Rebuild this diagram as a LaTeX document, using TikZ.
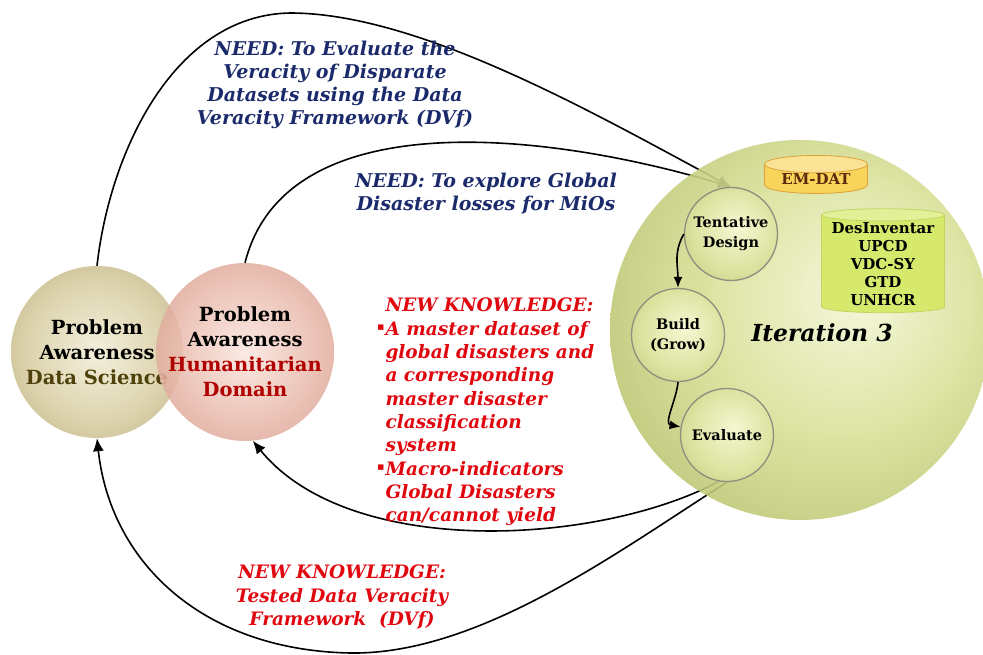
\documentclass[tikz,border=0pt]{standalone}
\usepackage{fontspec}
\setmainfont{DejaVu Serif}
\newfontfamily\symfont{DejaVu Sans}
\usetikzlibrary{arrows.meta,shapes.geometric}

\definecolor{needblue}{HTML}{1B2A6B}
\definecolor{gainred}{HTML}{E0070F}
\definecolor{domred}{HTML}{B00000}
\definecolor{sciolive}{HTML}{4F410C}
\definecolor{dbbrown}{HTML}{5A2A0A}
\definecolor{stageedge}{HTML}{8E8F80}
\definecolor{emgold}{HTML}{F8D45A}
\definecolor{emedge}{HTML}{DDA23C}
\definecolor{dvlime}{HTML}{D6E96C}
\definecolor{dvedge}{HTML}{C4D460}
% sphere tones
\definecolor{dshi}{HTML}{F3EFDC}\definecolor{dsmid}{HTML}{DDD4AE}\definecolor{dslo}{HTML}{BFB286}
\definecolor{hdhi}{HTML}{FAE6DF}\definecolor{hdmid}{HTML}{E8B8AA}\definecolor{hdlo}{HTML}{D49686}
\definecolor{ithi}{HTML}{F4F7D8}\definecolor{itmid}{HTML}{D8E097}\definecolor{itlo}{HTML}{B2BB66}\definecolor{itrim}{HTML}{A3AC56}
\definecolor{sthi}{HTML}{F4F7D2}\definecolor{stmid}{HTML}{DCE3A0}\definecolor{stlo}{HTML}{B9C374}

\pgfdeclareradialshading{dsball}{\pgfpoint{0bp}{0bp}}{%
  color(0bp)=(dshi); color(20bp)=(dsmid); color(35bp)=(dslo); color(50bp)=(dslo)}
\pgfdeclareradialshading{hdball}{\pgfpoint{0bp}{0bp}}{%
  color(0bp)=(hdhi); color(20bp)=(hdmid); color(35bp)=(hdlo); color(50bp)=(hdlo)}
\pgfdeclareradialshading{iterball}{\pgfpoint{8bp}{5bp}}{%
  color(0bp)=(ithi); color(18bp)=(itmid); color(36bp)=(itlo); color(46bp)=(itrim); color(60bp)=(itrim)}
\pgfdeclareradialshading{stageball}{\pgfpoint{4bp}{4bp}}{%
  color(0bp)=(sthi); color(22bp)=(stmid); color(40bp)=(stlo); color(50bp)=(stlo)}

\pgfdeclarelayer{links}
\pgfdeclarelayer{back}
\pgfsetlayers{links,back,main}

\begin{document}
\begin{tikzpicture}[x=1pt, y=1pt,
      font=\bfseries,
      ball/.style={circle, inner sep=0pt, minimum size=172pt, align=center,
                   font=\fontsize{19.5}{25}\selectfont\bfseries},
      stage/.style={circle, draw=stageedge, line width=1.3pt, shading=stageball,
                    minimum size=93pt, inner sep=0pt, align=center,
                    font=\fontsize{14.5}{20}\selectfont\bfseries},
      db/.style={cylinder, shape border rotate=90, draw, line width=0.8pt,
                 cylinder uses custom fill, inner sep=0pt, align=center,
                 font=\fontsize{15}{18}\selectfont\bfseries},
      need/.style={text=needblue, align=center,
                   font=\fontsize{19}{23}\selectfont\bfseries\itshape},
      gain/.style={text=gainred, font=\fontsize{18.5}{23.3}\selectfont\bfseries\itshape},
      flow/.style={-{Latex[length=11pt, width=9pt]}, line width=1.6pt},
      feed/.style={flow, -{Latex[length=13pt, width=11pt]}},
    ]
    \useasboundingbox (0,0) rectangle (983,-655);

    % iteration disc
    \begin{pgfonlayer}{back}
      \node[circle, minimum size=380pt, shading=iterball, fill opacity=0.9] (iter) at (800,-330) {};
    \end{pgfonlayer}
    \node[font=\fontsize{23.5}{26}\selectfont\bfseries\itshape] (itlabel) at (822,-333) {Iteration 3};

    % problem awareness
    \node[ball, shading=dsball] (ds) at (97,-352)
      {Problem\\Awareness\\\textcolor{sciolive}{Data Science}};
    \node[ball, shading=hdball, fill opacity=0.85, text opacity=1] (hd) at (245,-352)
      {Problem\\Awareness\\\textcolor{domred}{Humanitarian}\\\textcolor{domred}{Domain}};

    % design cycle
    \node[stage] (tent)  at (731,-234) {Tentative\\Design};
    \node[stage] (build) at (678,-335) {Build\\(Grow)};
    \node[stage] (eval)  at (727,-435) {Evaluate};
    \draw[flow] (tent.west) to[out=240, in=90] (build.north);
    \draw[flow] (build.south) to[out=265, in=170] (eval.170);

    % data sources
    \node[db, draw=emedge, cylinder body fill=emgold, cylinder end fill=emgold!65!white,
          minimum width=103pt, minimum height=38pt, aspect=0.25, text=dbbrown] (emdat) at (816,-179)
      {\raisebox{-5pt}{EM-DAT}};
    \node[db, draw=dvedge, cylinder body fill=dvlime, cylinder end fill=dvlime!70!white,
          minimum width=123pt, minimum height=104pt, aspect=0.12] (others) at (883,-264)
      {DesInventar\\UPCD\\VDC-SY\\GTD\\UNHCR};

    % needs and feedback
    \begin{pgfonlayer}{links}
      \draw[feed] (ds.north) .. controls (110,-150) and (175,-15) .. (290,-13)
                  .. controls (420,-13) and (597,-115) .. (tent.north);
      \draw[feed] (hd.north) .. controls (285,-104) and (540,-130) .. (tent.north);
      \draw[feed] (eval.260) .. controls (600,-545) and (350,-560) .. (hd.-85);
      \draw[feed] (eval.south) .. controls (620,-550) and (480,-655) .. (350,-653)
                  .. controls (200,-650) and (110,-560) .. (ds.south);
    \end{pgfonlayer}

    % labels
    \node[need] (need1) at (335,-85) {NEED: To Evaluate the\\Veracity of Disparate\\Datasets using the Data\\Veracity Framework (DVf)};
    \node[need] (need2) at (486,-194) {NEED: To explore Global\\Disaster losses for MiOs};
    \newcommand{\sqbul}{\llap{\raisebox{.5ex}{\symfont\fontsize{11}{11}\selectfont ▪}\kern1pt}}
    \node[gain, align=left, anchor=west] (gain1) at (382,-412)
      {NEW KNOWLEDGE:\\\sqbul A master dataset of\\global disasters and\\a corresponding\\master disaster\\classification\\system\\\sqbul Macro-indicators\\Global Disasters\\can/cannot yield};
    \node[gain, align=center] (gain2) at (342,-597) {NEW KNOWLEDGE:\\Tested Data Veracity\\Framework~ (DVf)};
  \end{tikzpicture}
\end{document}
